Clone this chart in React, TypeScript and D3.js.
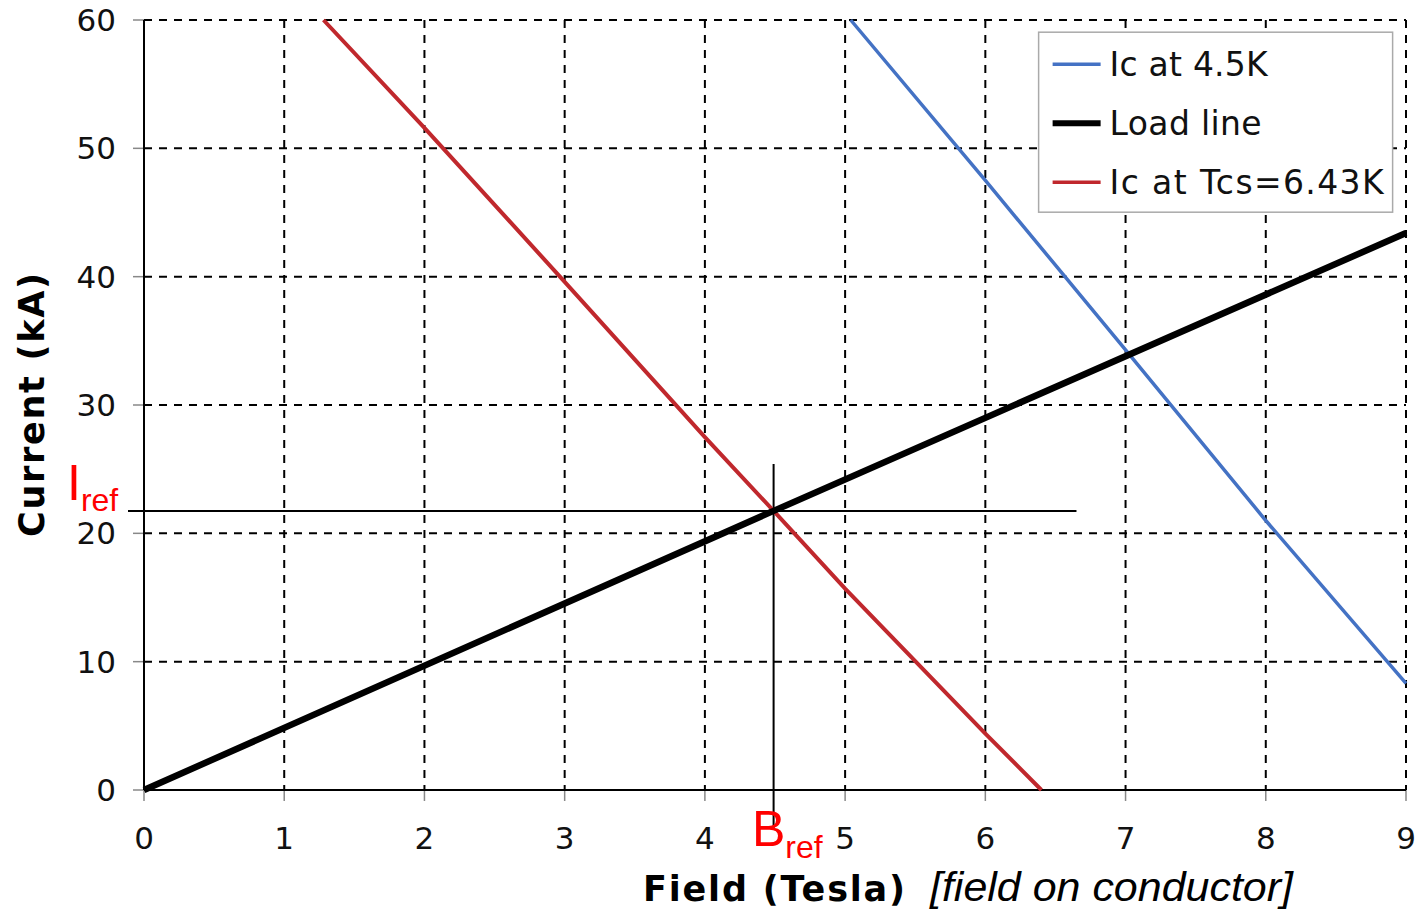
import React from "react";
import * as d3 from "d3";

const width = 1425;
const height = 910;
const margin = { top: 20, right: 19, bottom: 120, left: 144 };

// Data (B in Tesla, I in kA)
const xTicks = [0, 1, 2, 3, 4, 5, 6, 7, 8, 9];
const yTicks = [0, 10, 20, 30, 40, 50, 60];

const ic45 = [
  [5.04, 60],
  [6, 47.5],
  [7, 34.3],
  [8, 21.0],
  [9, 8.3],
];
const loadLine = [
  [0, 0],
  [4.49, 21.75],
  [9, 43.4],
];
const icTcs = [
  [1.28, 60],
  [2, 51.6],
  [3, 39.6],
  [4, 27.5],
  [4.49, 21.75],
  [5, 15.7],
  [6, 4.4],
  [6.4, 0],
];
const bRef = 4.49;
const iRef = 21.75;

const legendItems = [
  { label: "Ic at 4.5K", color: "#4472c4", w: 3.5, len: 158 },
  { label: "Load line", color: "#000000", w: 6, len: 152 },
  { label: "Ic at Tcs=6.43K", color: "#c0282d", w: 3.5, len: 274 },
];

const font = "'DejaVu Sans', Verdana, sans-serif";
const arial = "'Liberation Sans', Arial, sans-serif";

export default function App() {
  const innerWidth = width - margin.left - margin.right;
  const innerHeight = height - margin.top - margin.bottom;

  const x = d3.scaleLinear().domain([0, 9]).range([0, innerWidth]);
  const y = d3.scaleLinear().domain([0, 60]).range([innerHeight, 0]);

  const lineGen = d3
    .line<number[]>()
    .x((d) => x(d[0]))
    .y((d) => y(d[1]));

  return (
    <div style={{ position: "fixed", top: 0, left: 0 }}>
      <svg width={width} height={height} style={{ display: "block", background: "#fff" }}>
        <g transform={`translate(${margin.left},${margin.top})`}>
          {/* grid */}
          {xTicks.slice(1).map((t) => (
            <line key={"gx" + t} x1={x(t)} x2={x(t)} y1={0} y2={innerHeight}
              stroke="#000" strokeWidth={2} strokeDasharray="8,7" />
          ))}
          {yTicks.slice(1).map((t) => (
            <line key={"gy" + t} x1={0} x2={innerWidth} y1={y(t)} y2={y(t)}
              stroke="#000" strokeWidth={2} strokeDasharray="8,7" />
          ))}
          {/* ticks */}
          {xTicks.map((t) => (
            <line key={"tx" + t} x1={x(t)} x2={x(t)} y1={innerHeight} y2={innerHeight + 11}
              stroke="#888" strokeWidth={1.5} />
          ))}
          {yTicks.map((t) => (
            <line key={"ty" + t} x1={-11} x2={0} y1={y(t)} y2={y(t)}
              stroke="#888" strokeWidth={1.5} />
          ))}
          {/* axes */}
          <line x1={0} x2={0} y1={0} y2={innerHeight} stroke="#000" strokeWidth={2} />
          <line x1={0} x2={innerWidth} y1={innerHeight} y2={innerHeight} stroke="#000" strokeWidth={2} />

          {/* tick labels */}
          {xTicks.map((t) => (
            <text key={"lx" + t} x={x(t)} y={innerHeight + 59} textAnchor="middle"
              fontFamily={font} fontSize={31} fill="#111">{t}</text>
          ))}
          {yTicks.map((t) => (
            <text key={"ly" + t} x={-28} y={y(t)} dy="0.36em" textAnchor="end"
              fontFamily={font} fontSize={31} fill="#111">{t}</text>
          ))}

          {/* crosshair at reference point */}
          <line x1={-16} x2={x(6.65)} y1={y(iRef)} y2={y(iRef)} stroke="#000" strokeWidth={2} />
          <line x1={x(bRef)} x2={x(bRef)} y1={y(25.4)} y2={innerHeight + 40} stroke="#000" strokeWidth={2} />

          {/* curves */}
          <path d={lineGen(icTcs) ?? ""} fill="none" stroke="#c0282d" strokeWidth={4} />
          <path d={lineGen(ic45) ?? ""} fill="none" stroke="#4472c4" strokeWidth={3.5} />
          <path d={lineGen(loadLine) ?? ""} fill="none" stroke="#000" strokeWidth={6.5} />

          {/* legend */}
          <g transform={`translate(${x(6.38)},${y(59.05)})`}>
            <rect x={0} y={0} width={354} height={180} fill="#fff" stroke="#aaa" strokeWidth={1.5} />
            {legendItems.map((it, i) => (
              <g key={it.label} transform={`translate(0,${32 + i * 59})`}>
                <line x1={14} x2={62} y1={0} y2={0} stroke={it.color} strokeWidth={it.w} />
                <text x={71} y={0} dy="0.36em" fontFamily={font} fontSize={33} fill="#111"
                  textLength={it.len} lengthAdjust="spacing">{it.label}</text>
              </g>
            ))}
          </g>
        </g>

        {/* red reference labels */}
        <text x={67} y={500} fontFamily={arial} fill="#ff0000">
          <tspan fontSize={50}>I</tspan>
          <tspan fontSize={32} dy={11}>ref</tspan>
        </text>
        <text x={752} y={846} fontFamily={arial} fill="#ff0000">
          <tspan fontSize={50}>B</tspan>
          <tspan fontSize={32} dy={12}>ref</tspan>
        </text>

        {/* axis titles */}
        <text transform={`translate(44,405) rotate(-90)`} textAnchor="middle"
          fontFamily={font} fontWeight="bold" fontSize={35} fill="#000"
          textLength={264} lengthAdjust="spacing">Current (kA)</text>
        <text x={643} y={901} fontFamily={font} fontWeight="bold" fontSize={35} fill="#000"
          textLength={262} lengthAdjust="spacing">Field (Tesla)</text>
        <text x={930} y={901} fontFamily={arial} fontStyle="italic"
          fontSize={40} fill="#000" textLength={363} lengthAdjust="spacingAndGlyphs">[field on conductor]</text>
      </svg>
    </div>
  );
}
